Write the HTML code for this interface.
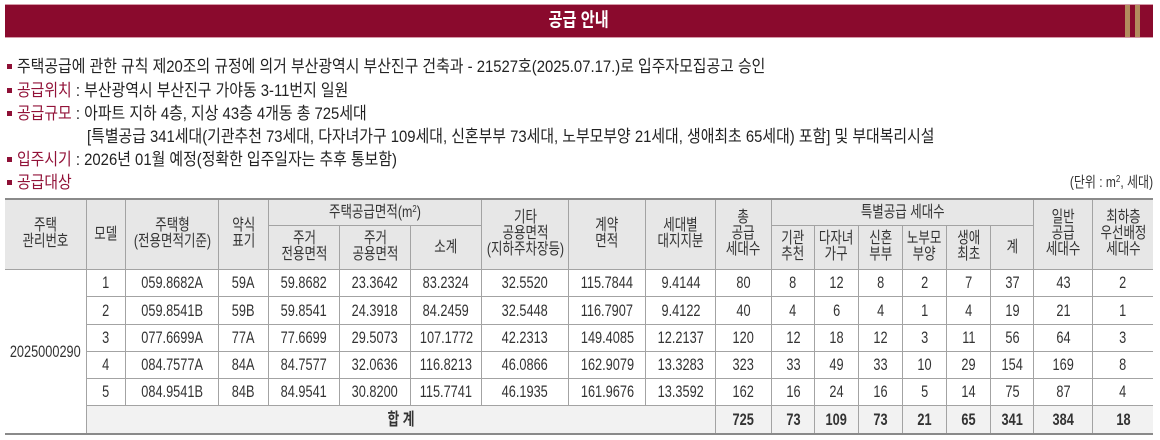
<!DOCTYPE html>
<html><head><meta charset="utf-8">
<style>
*{margin:0;padding:0;box-sizing:border-box}
html,body{width:1160px;height:440px;overflow:hidden;background:#fff}
body{position:relative;font-family:"Liberation Sans","Noto Sans CJK KR",sans-serif;color:#222}
.bar{position:absolute;left:5px;top:4px;width:1148px;height:34px;background:#8a0a2d;border-top:1px solid #d59aa8;border-bottom:1px solid #d59aa8}
.title{position:absolute;left:0;top:0;width:100%;height:32px;line-height:32px;text-align:center;color:#fff;font-weight:bold;font-size:19px;font-family:"Liberation Sans","Noto Sans CJK KR",sans-serif}
.title span{display:inline-block;transform:scaleX(.8)}
.tan{position:absolute;top:0;width:5px;height:32px;background:#b38b5d}
.ln{position:absolute;left:17px;font-size:17px;line-height:20px;white-space:nowrap;transform:scaleX(.875);transform-origin:0 0}
.r{color:#921238}
.b{position:absolute;left:7px;width:5px;height:5px;background:#8e1036}
.unit{position:absolute;right:7px;top:174px;font-size:15px;line-height:18px;white-space:nowrap;transform:scaleX(.8);transform-origin:100% 0;color:#333}
table{position:absolute;left:5px;top:198px;width:1148px;border-collapse:separate;border-spacing:0;table-layout:fixed;border-top:2px solid #8a8a8a;border-bottom:2px solid #8a8a8a;font-size:17px;color:#333}
td{border-right:1px solid #a3a3a3;border-bottom:1px solid #a3a3a3;text-align:center;vertical-align:middle;padding:0;white-space:nowrap}
td.e{border-right:none}
td span{display:inline-block;transform:scaleX(.75);line-height:16px;margin:0 -60px}
.h td{background:#e7e7e7;font-size:16px}
.h td span{transform:scaleX(.78)}
.t td{background:#f2f2f2;font-weight:bold;border-bottom:none}
td.nb{border-bottom:none;background:#fff}
sup{font-size:10px;line-height:0;vertical-align:5px}
</style></head>
<body>
<div class="bar">
  <div class="title"><span>공급 안내</span></div>
  <div class="tan" style="left:1120px"></div>
  <div class="tan" style="left:1130px"></div>
</div>

<div class="b" style="top:64px"></div>
<div class="ln" style="top:57px">주택공급에 관한 규칙 제20조의 규정에 의거 부산광역시 부산진구 건축과 - 21527호(2025.07.17.)로 입주자모집공고 승인</div>

<div class="b" style="top:88px"></div>
<div class="ln" style="top:81px"><span class="r">공급위치</span> : 부산광역시 부산진구 가야동 3-11번지 일원</div>

<div class="b" style="top:111px"></div>
<div class="ln" style="top:104px"><span class="r">공급규모</span> : 아파트 지하 4층, 지상 43층 4개동 총 725세대</div>

<div class="ln" style="top:127px;left:87px">[특별공급 341세대(기관추천 73세대, 다자녀가구 109세대, 신혼부부 73세대, 노부모부양 21세대, 생애최초 65세대) 포함] 및 부대복리시설</div>

<div class="b" style="top:157px"></div>
<div class="ln" style="top:150px"><span class="r">입주시기</span> : 2026년 01월 예정(정확한 입주일자는 추후 통보함)</div>

<div class="b" style="top:180px"></div>
<div class="ln" style="top:173px"><span class="r">공급대상</span></div>

<div class="unit">(단위 : m<sup>2</sup>, 세대)</div>

<table>
<colgroup>
<col style="width:82px"><col style="width:39px"><col style="width:93px"><col style="width:50px"><col style="width:71px"><col style="width:71px"><col style="width:71px"><col style="width:87px"><col style="width:77px"><col style="width:70px"><col style="width:56px"><col style="width:43px"><col style="width:44px"><col style="width:44px"><col style="width:44px"><col style="width:44px"><col style="width:43px"><col style="width:59px"><col style="width:60px">
</colgroup>
<tr class="h" style="height:26px">
<td rowspan="2"><span>주택<br>관리번호</span></td>
<td rowspan="2"><span>모델</span></td>
<td rowspan="2"><span>주택형<br>(전용면적기준)</span></td>
<td rowspan="2"><span>약식<br>표기</span></td>
<td colspan="3"><span>주택공급면적(m<sup>2</sup>)</span></td>
<td rowspan="2"><span>기타<br>공용면적<br>(지하주차장등)</span></td>
<td rowspan="2"><span>계약<br>면적</span></td>
<td rowspan="2"><span>세대별<br>대지지분</span></td>
<td rowspan="2"><span>총<br>공급<br>세대수</span></td>
<td colspan="6"><span>특별공급 세대수</span></td>
<td rowspan="2"><span>일반<br>공급<br>세대수</span></td>
<td rowspan="2" class="e"><span>최하층<br>우선배정<br>세대수</span></td>
</tr>
<tr class="h" style="height:44px">
<td><span>주거<br>전용면적</span></td>
<td><span>주거<br>공용면적</span></td>
<td><span>소계</span></td>
<td><span>기관<br>추천</span></td>
<td><span>다자녀<br>가구</span></td>
<td><span>신혼<br>부부</span></td>
<td><span>노부모<br>부양</span></td>
<td><span>생애<br>최초</span></td>
<td><span>계</span></td>
</tr>
<tr style="height:27px">
<td rowspan="6" class="nb"><span>2025000290</span></td>
<td><span>1</span></td><td><span>059.8682A</span></td><td><span>59A</span></td><td><span>59.8682</span></td><td><span>23.3642</span></td><td><span>83.2324</span></td><td><span>32.5520</span></td><td><span>115.7844</span></td><td><span>9.4144</span></td><td><span>80</span></td><td><span>8</span></td><td><span>12</span></td><td><span>8</span></td><td><span>2</span></td><td><span>7</span></td><td><span>37</span></td><td><span>43</span></td><td class="e"><span>2</span></td>
</tr>
<tr style="height:28px">
<td><span>2</span></td><td><span>059.8541B</span></td><td><span>59B</span></td><td><span>59.8541</span></td><td><span>24.3918</span></td><td><span>84.2459</span></td><td><span>32.5448</span></td><td><span>116.7907</span></td><td><span>9.4122</span></td><td><span>40</span></td><td><span>4</span></td><td><span>6</span></td><td><span>4</span></td><td><span>1</span></td><td><span>4</span></td><td><span>19</span></td><td><span>21</span></td><td class="e"><span>1</span></td>
</tr>
<tr style="height:27px">
<td><span>3</span></td><td><span>077.6699A</span></td><td><span>77A</span></td><td><span>77.6699</span></td><td><span>29.5073</span></td><td><span>107.1772</span></td><td><span>42.2313</span></td><td><span>149.4085</span></td><td><span>12.2137</span></td><td><span>120</span></td><td><span>12</span></td><td><span>18</span></td><td><span>12</span></td><td><span>3</span></td><td><span>11</span></td><td><span>56</span></td><td><span>64</span></td><td class="e"><span>3</span></td>
</tr>
<tr style="height:27px">
<td><span>4</span></td><td><span>084.7577A</span></td><td><span>84A</span></td><td><span>84.7577</span></td><td><span>32.0636</span></td><td><span>116.8213</span></td><td><span>46.0866</span></td><td><span>162.9079</span></td><td><span>13.3283</span></td><td><span>323</span></td><td><span>33</span></td><td><span>49</span></td><td><span>33</span></td><td><span>10</span></td><td><span>29</span></td><td><span>154</span></td><td><span>169</span></td><td class="e"><span>8</span></td>
</tr>
<tr style="height:27px">
<td><span>5</span></td><td><span>084.9541B</span></td><td><span>84B</span></td><td><span>84.9541</span></td><td><span>30.8200</span></td><td><span>115.7741</span></td><td><span>46.1935</span></td><td><span>161.9676</span></td><td><span>13.3592</span></td><td><span>162</span></td><td><span>16</span></td><td><span>24</span></td><td><span>16</span></td><td><span>5</span></td><td><span>14</span></td><td><span>75</span></td><td><span>87</span></td><td class="e"><span>4</span></td>
</tr>
<tr class="t" style="height:27px">
<td colspan="9"><span>합 계</span></td>
<td><span>725</span></td><td><span>73</span></td><td><span>109</span></td><td><span>73</span></td><td><span>21</span></td><td><span>65</span></td><td><span>341</span></td><td><span>384</span></td><td class="e"><span>18</span></td>
</tr>
</table>
</body></html>
